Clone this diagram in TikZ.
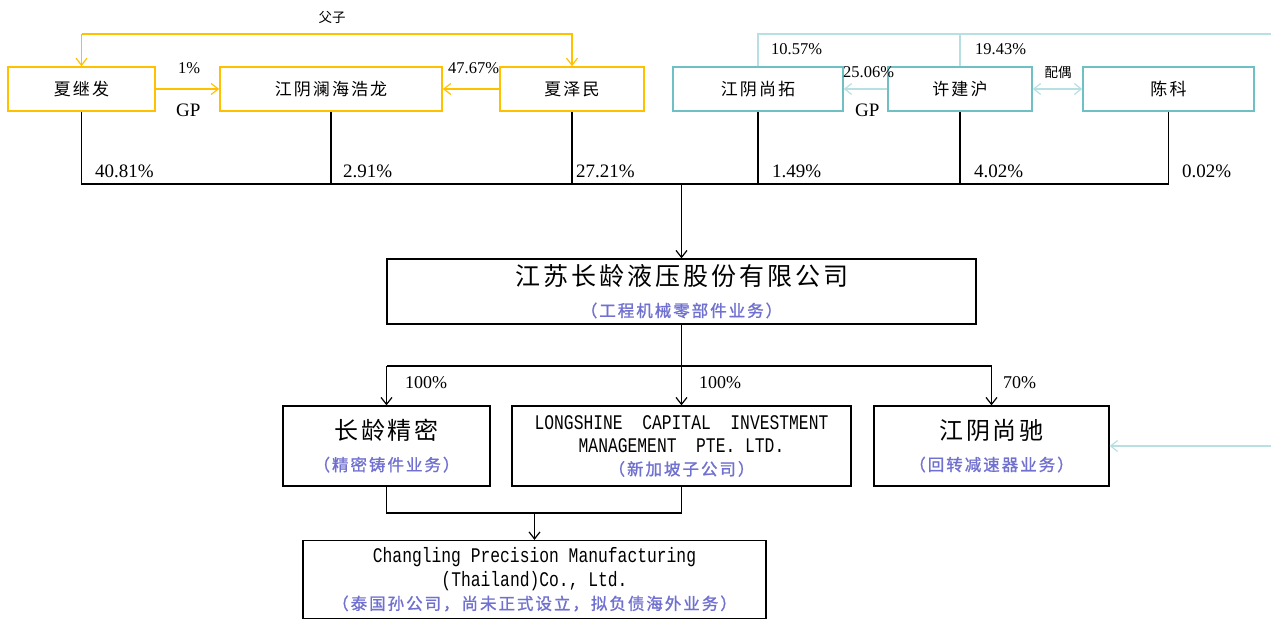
\documentclass[tikz,border=0pt]{standalone}
\usepackage{fontspec}
\usepackage{graphicx}
\setmainfont{Liberation Serif}
\newfontfamily\cjk[LetterSpace=12]{Noto Sans CJK SC}
\newfontfamily\cjkb[LetterSpace=12,FakeBold=1.2]{Noto Sans CJK SC}
\newfontfamily\cjkn{Noto Sans CJK SC}
\newfontfamily\monof{Liberation Mono}
\usetikzlibrary{arrows.meta}
\definecolor{gold}{HTML}{FFC000}
\definecolor{tealbox}{HTML}{6FC0C4}
\definecolor{teall}{HTML}{B8E0E2}
\definecolor{subc}{HTML}{7070D0}
\tikzset{
  box/.style={rectangle, inner sep=0pt, align=center, fill=white},
  ybox/.style={box, draw=gold, line width=1.7pt, minimum height=44pt, font=\cjk\fontsize{17}{20}\selectfont},
  tbox/.style={box, draw=tealbox, line width=1.5pt, minimum height=44pt, font=\cjk\fontsize{17}{20}\selectfont},
  kbox/.style={box, draw=black, line width=1.3pt},
  tip/.style={-{Straight Barb[length=7pt,width=11pt,line width=1.2pt]}},
  yl/.style={draw=gold, line width=1.6pt},
  tl/.style={draw=teall, line width=1.6pt},
  kl/.style={draw=black, line width=1.3pt},
  pct/.style={inner sep=0pt, anchor=west, font=\fontsize{19}{21}\selectfont},
  spct/.style={inner sep=0pt, anchor=west, font=\fontsize{16.5}{19}\selectfont},
  cl/.style={inner sep=0pt, font=\cjkn\fontsize{13.5}{16}\selectfont},
}
\newcommand{\subt}[1]{{\color{subc}\cjkb\fontsize{16.5}{20}\selectfont #1}}
\newcommand{\mtext}[1]{\scalebox{1.02}[1.3]{\monof\fontsize{16}{20}\selectfont #1}}
\begin{document}
\begin{tikzpicture}[x=1pt,y=-1pt]
\useasboundingbox (0,0) rectangle (1271,619);

% top row
\node[ybox, minimum width=147pt] (xjf) at (81.5,89) {夏继发};
\node[ybox, minimum width=222pt] (lhhl) at (331,89) {江阴澜海浩龙};
\node[ybox, minimum width=144pt] (xzm) at (572,89) {夏泽民};
\node[tbox, minimum width=170pt] (jyst) at (758,89) {江阴尚拓};
\node[tbox, minimum width=144pt] (xjh) at (960,89) {许建沪};
\node[tbox, minimum width=171pt] (ck) at (1168.5,89) {陈科};

% main company
\node[kbox, minimum width=589pt, minimum height=65pt, font=\fontsize{16}{31}\selectfont] (main) at (681.5,291.5)
  {{\cjk\fontsize{25}{30}\selectfont 江苏长龄液压股份有限公司}\\\subt{（工程机械零部件业务）}};

% second row
\node[kbox, minimum width=207pt, minimum height=80pt, font=\fontsize{16}{31}\selectfont] (cljm) at (386.5,446)
  {{\cjk\fontsize{24}{28}\selectfont 长龄精密}\\\subt{（精密铸件业务）}};
\node[kbox, minimum width=339pt, minimum height=80pt, font=\fontsize{16}{23}\selectfont] (ls) at (681.5,446)
  {\mtext{LONGSHINE\ \ CAPITAL\ \ INVESTMENT}\\\mtext{MANAGEMENT\ \ PTE. LTD.}\\\subt{（新加坡子公司）}};
\node[kbox, minimum width=235pt, minimum height=80pt, font=\fontsize{16}{31}\selectfont] (jysc) at (991.5,446)
  {{\cjk\fontsize{24}{28}\selectfont 江阴尚驰}\\\subt{（回转减速器业务）}};

% third row
\node[kbox, minimum width=463pt, minimum height=78pt, font=\fontsize{16}{23.5}\selectfont] (cpm) at (534.5,579.5)
  {\mtext{Changling Precision Manufacturing}\\\mtext{(Thailand)Co., Ltd.}\\\subt{（泰国孙公司，尚未正式设立，拟负债海外业务）}};

% helper coordinates
\coordinate (ytop) at (0,34);
\coordinate (hb) at (0,184);
\coordinate (mb) at (0,366);
\coordinate (lb) at (0,513);
\coordinate (rtop) at (1285,34);
\coordinate (rbot) at (1285,446);

% yellow relations
\draw[yl, tip] (xjf.north |- ytop) -- (xjf.north);
\draw[yl, tip] (xjf.north |- ytop) -- (xzm.north |- ytop) -- (xzm.north);
\draw[yl, tip] (xjf.east) -- (lhhl.west);
\draw[yl, tip] (xzm.west) -- (lhhl.east);

% teal relations
\draw[tl, tip] (jyst.north) -- (jyst.north |- ytop) -- (rtop) -- (rbot) -- (jysc.east);
\draw[tl] (xjh.north) -- (xjh.north |- ytop);
\draw[tl, tip] (xjh.west) -- (jyst.east);
\draw[tl, {Straight Barb[length=7pt,width=11pt,line width=1.2pt]}-{Straight Barb[length=7pt,width=11pt,line width=1.2pt]}] (xjh.east) -- (ck.west);

% black shareholding lines
\draw[kl] (xjf.south) -- (xjf.south |- hb) -- (ck.south |- hb) -- (ck.south);
\draw[kl] (lhhl.south) -- (lhhl.south |- hb);
\draw[kl] (xzm.south) -- (xzm.south |- hb);
\draw[kl] (jyst.south) -- (jyst.south |- hb);
\draw[kl] (xjh.south) -- (xjh.south |- hb);
\draw[kl, tip] (main.north |- hb) -- (main.north);

\draw[kl] (main.south) -- (main.south |- mb);
\draw[kl] (cljm.north |- mb) -- (jysc.north |- mb);
\draw[kl, tip] (cljm.north |- mb) -- (cljm.north);
\draw[kl, tip] (ls.north |- mb) -- (ls.north);
\draw[kl, tip] (jysc.north |- mb) -- (jysc.north);

\draw[kl] (cljm.south) -- (cljm.south |- lb) -- (ls.south |- lb) -- (ls.south);
\draw[kl, tip] (cpm.north |- lb) -- (cpm.north);

% labels
\node[cl] (fz) at (332,17) {父子};
\node[cl] (po) at (1058,72) {配偶};
\node[spct] (p1) at (178,68) {1\%};
\node[pct] (gp1) at (176,110) {GP};
\node[spct] (p4767) at (448,68) {47.67\%};
\node[spct] (p1057) at (771,49) {10.57\%};
\node[spct] (p2506) at (843,72) {25.06\%};
\node[pct] (gp2) at (855,110) {GP};
\node[spct] (p1943) at (975,49) {19.43\%};

\node[pct] (q1) at (95,171) {40.81\%};
\node[pct] (q2) at (343,171) {2.91\%};
\node[pct] (q3) at (576,171) {27.21\%};
\node[pct] (q4) at (772,171) {1.49\%};
\node[pct] (q5) at (974,171) {4.02\%};
\node[pct] (q6) at (1182,171) {0.02\%};

\node[spct, font=\fontsize{18}{20}\selectfont] (r1) at (405,383) {100\%};
\node[spct, font=\fontsize{18}{20}\selectfont] (r2) at (699,383) {100\%};
\node[spct, font=\fontsize{18}{20}\selectfont] (r3) at (1003,383) {70\%};
\end{tikzpicture}
\end{document}
